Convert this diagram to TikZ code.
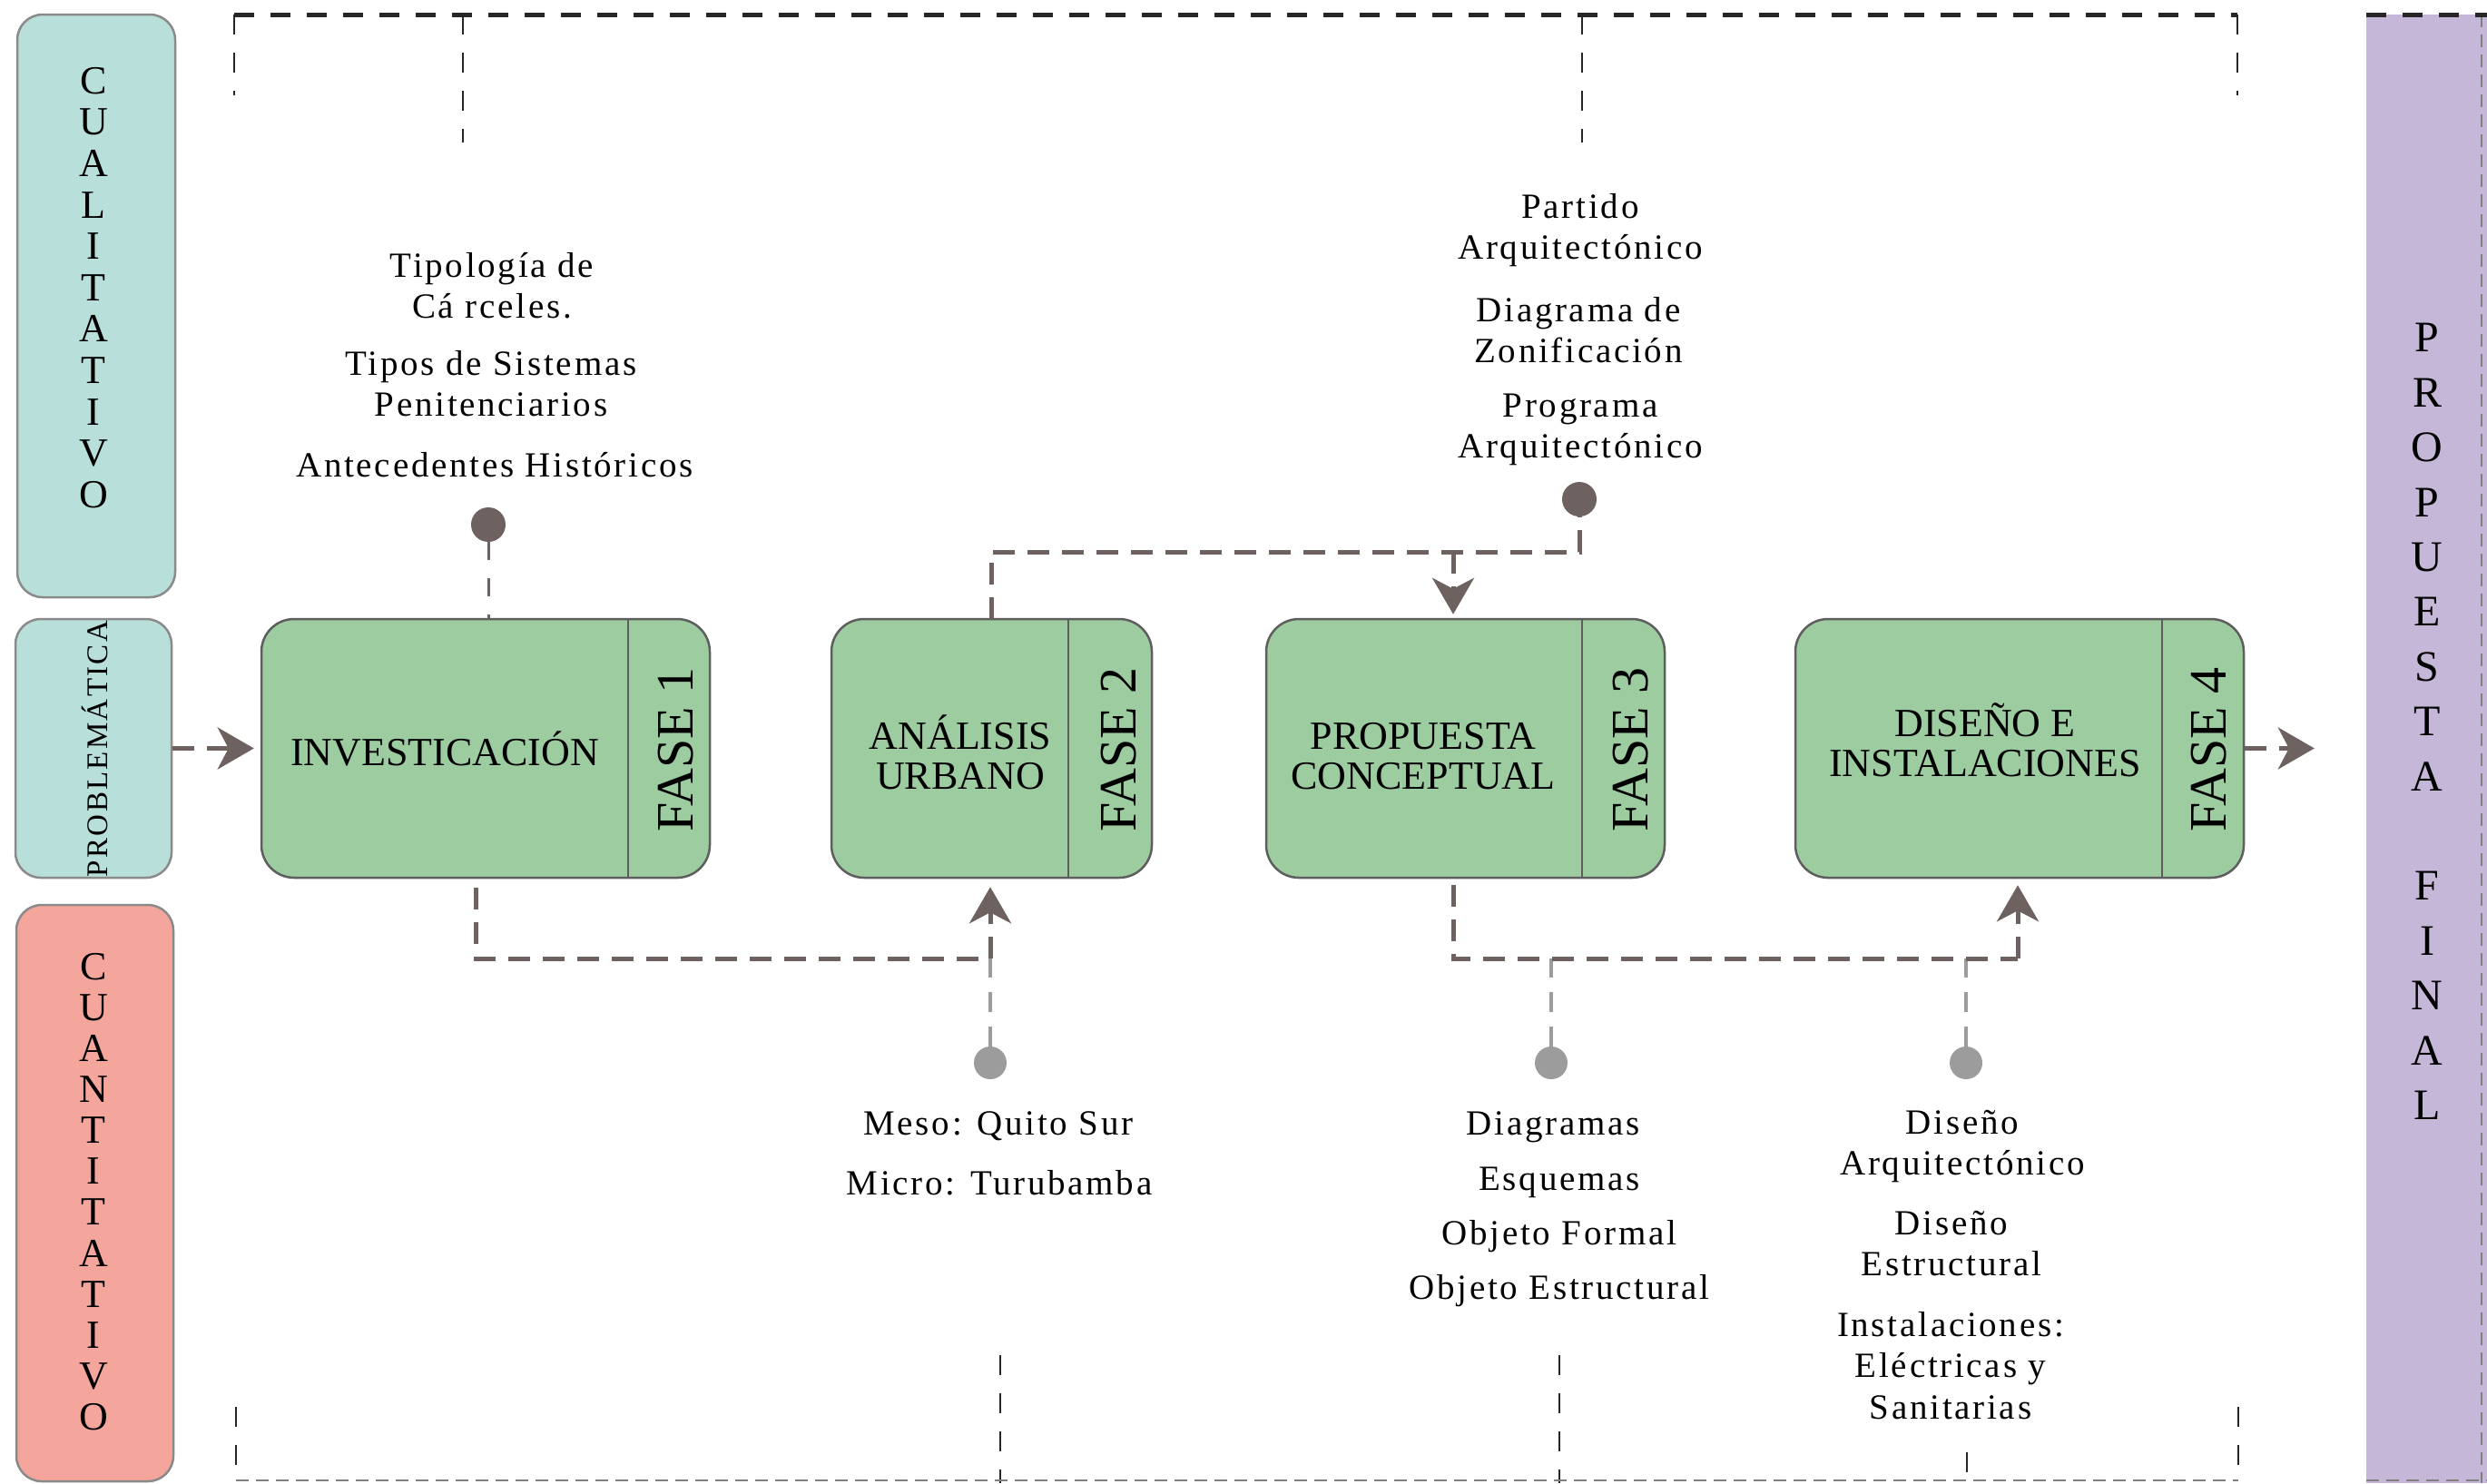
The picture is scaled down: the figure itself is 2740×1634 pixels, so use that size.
\documentclass[tikz,border=0pt]{standalone}
\usepackage{fontspec}
\setmainfont{Liberation Serif}
\newfontfamily\spacedfont[LetterSpace=7]{Liberation Serif}
\usetikzlibrary{arrows.meta}
\definecolor{cqual}{HTML}{B8DFDA}
\definecolor{cquant}{HTML}{F4A59C}
\definecolor{cgreen}{HTML}{9DCCA0}
\definecolor{clav}{HTML}{C4B7D8}
\definecolor{cconn}{HTML}{6D625F}
\definecolor{cgdot}{HTML}{9C9C9C}
\definecolor{cborder}{HTML}{5E5E5E}
\definecolor{csideborder}{HTML}{8A8A8A}
\tikzset{
  sidebox/.style={draw=csideborder, line width=2.5pt, rounded corners=28pt, inner sep=0pt},
  phasebox/.style={draw=cborder, line width=2.5pt, fill=cgreen, rounded corners=36pt, inner sep=0pt},
  divider/.style={draw=cborder, line width=2.5pt},
  boxtext/.style={font=\fontsize{44}{44}\selectfont, align=center, inner sep=0pt, anchor=base},
  fasetext/.style={font=\fontsize{58}{58}\selectfont, rotate=90, inner sep=0pt},
  vletters/.style={align=center, inner sep=0pt},
  info/.style={font=\spacedfont\fontsize{39}{45.5}\selectfont, align=center, inner sep=0pt, anchor=base},
  conn/.style={draw=cconn, line width=5pt, dash pattern=on 24pt off 14pt},
  tip/.style={-{Stealth[length=40pt, width=46pt, inset=12pt]}},
  thinconn/.style={draw=cconn, line width=3pt, dash pattern=on 20pt off 20pt},
  grayconn/.style={draw=cgdot, line width=3.5pt, dash pattern=on 22pt off 16pt},
  darkdot/.style={circle, fill=cconn, minimum size=38pt, inner sep=0pt},
  graydot/.style={circle, fill=cgdot, minimum size=36pt, inner sep=0pt},
  framedash/.style={draw=black!85, line width=2pt, dash pattern=on 22pt off 20pt},
  topdash/.style={draw=black!85, line width=5pt, dash pattern=on 22pt off 18pt},
  bottomdash/.style={draw=gray, line width=2.5pt, dash pattern=on 14pt off 8pt},
}
\begin{document}
\begin{tikzpicture}[x=1pt, y=-1pt]
\useasboundingbox (0,0) rectangle (2740,1634);
\fill[white] (0,0) rectangle (2740,1634);

% ---- frame (dashed brackets) ----
\coordinate (ftl) at (258,16);
\coordinate (ftr) at (2465,16);
\draw[topdash] (ftl) -- (ftr);
\coordinate (v1a) at (258,16);  \coordinate (v1b) at (258,105);
\coordinate (v2a) at (510,16);  \coordinate (v2b) at (510,157);
\coordinate (v3a) at (1743,16); \coordinate (v3b) at (1743,157);
\coordinate (v4a) at (2465,16); \coordinate (v4b) at (2465,105);
\draw[framedash] (v1a) -- (v1b);
\draw[framedash] (v2a) -- (v2b);
\draw[framedash] (v3a) -- (v3b);
\draw[framedash] (v4a) -- (v4b);
\coordinate (fbl) at (260,1631);
\coordinate (fbr) at (2466,1631);
\coordinate (w1a) at (260,1550);  \coordinate (w1b) at (260,1634);
\coordinate (w2a) at (1102,1493); \coordinate (w2b) at (1102,1634);
\coordinate (w3a) at (1718,1493); \coordinate (w3b) at (1718,1634);
\coordinate (w4a) at (2167,1600); \coordinate (w4b) at (2167,1634);
\coordinate (w5a) at (2466,1550); \coordinate (w5b) at (2466,1634);
\draw[framedash] (w1a) -- (w1b);
\draw[framedash] (w2a) -- (w2b);
\draw[framedash] (w3a) -- (w3b);
\draw[framedash] (w4a) -- (w4b);
\draw[framedash] (w5a) -- (w5b);
\draw[bottomdash] (fbl) -- (fbr);

% ---- side boxes ----
\node[sidebox, fill=cqual, minimum width=174pt, minimum height=642pt] (qual) at (106,337) {};
\node[vletters, font=\fontsize{44}{45.6}\selectfont] (qualt) at (103,317) {C\\U\\A\\L\\I\\T\\A\\T\\I\\V\\O};
\node[sidebox, fill=cqual, minimum width=172pt, minimum height=285pt] (prob) at (103,824.5) {};
\node[font=\spacedfont\fontsize{33}{33}\selectfont, rotate=90, inner sep=0pt] (probt) at (104,825) {PROBLEMÁTICA};
\node[sidebox, fill=cquant, minimum width=173pt, minimum height=635pt] (quant) at (104.5,1314.5) {};
\node[vletters, font=\fontsize{44}{45.1}\selectfont] (quantt) at (103,1313) {C\\U\\A\\N\\T\\I\\T\\A\\T\\I\\V\\O};

% ---- propuesta final ----
\node[fill=clav, minimum width=133pt, minimum height=1618pt, inner sep=0pt] (pf) at (2673.5,825) {};
\coordinate (pfa) at (2734,16);
\coordinate (pfb) at (2734,1634);
\coordinate (pft1) at (2607,16);
\coordinate (pft2) at (2740,16);
\coordinate (pfb1) at (2607,1631);
\coordinate (pfb2) at (2740,1631);
\draw[bottomdash] (pfa) -- (pfb);
\draw[topdash] (pft1) -- (pft2);
\draw[bottomdash] (pfb1) -- (pfb2);
\node[vletters, font=\fontsize{48}{60.4}\selectfont] (pft) at (2674,795) {P\\R\\O\\P\\U\\E\\S\\T\\A\\[60.4pt]F\\I\\N\\A\\L};

% ---- phase boxes ----
\node[phasebox, minimum width=494pt, minimum height=285pt] (f1) at (535,824.5) {};
\draw[divider] (692,682) -- (692,967);
\node[boxtext] (f1t) at (490,843) {INVESTICACIÓN};
\node[fasetext] (f1f) at (745,826) {FASE 1};

\node[phasebox, minimum width=353pt, minimum height=285pt] (f2) at (1092.5,824.5) {};
\draw[divider] (1177,682) -- (1177,967);
\node[boxtext] (f2t) at (1058,869) {ANÁLISIS\\URBANO};
\node[fasetext] (f2f) at (1233,826) {FASE 2};

\node[phasebox, minimum width=439pt, minimum height=285pt] (f3) at (1614.5,824.5) {};
\draw[divider] (1743,682) -- (1743,967);
\node[boxtext] (f3t) at (1568,869) {PROPUESTA\\CONCEPTUAL};
\node[fasetext] (f3f) at (1797,826) {FASE 3};

\node[phasebox, minimum width=494pt, minimum height=285pt] (f4) at (2225,824.5) {};
\draw[divider] (2382,682) -- (2382,967);
\node[boxtext] (f4t) at (2187,855) {DISEÑO E\\INSTALACIONES};
\node[fasetext] (f4f) at (2434,826) {FASE 4};

% ---- texts (anchor = baseline of last line) ----
\node[info] (t1) at (542,350.5) {Tipología de\\Cá rceles.};
\node[info] (t2) at (541,458.5) {Tipos de Sistemas\\Penitenciarios};
\node[info] (t3) at (545,525) {Antecedentes Históricos};
\node[info] (r1) at (1741,285.5) {Partido\\Arquitectónico};
\node[info] (r2) at (1739,399.5) {Diagrama de\\Zonificación};
\node[info] (r3) at (1741,504.5) {Programa\\Arquitectónico};
\node[info] (b1) at (1100,1250) {Meso: Quito Sur};
\node[info] (b2) at (1101,1316) {Micro: Turubamba};
\node[info] (c1) at (1711,1250) {Diagramas};
\node[info] (c2) at (1718,1311) {Esquemas};
\node[info] (c3) at (1718,1371) {Objeto Formal};
\node[info] (c4) at (1718,1431) {Objeto Estructural};
\node[info] (e1) at (2162,1294.5) {Diseño\\Arquitectónico};
\node[info] (e2) at (2150,1405.5) {Diseño\\Estructural};
\node[info] (e3) at (2149,1563) {Instalaciones:\\Eléctricas y\\Sanitarias};

% ---- connectors ----
\draw[conn, tip, shorten >=7pt] (prob.east) -- (f1.west);
\draw[conn, tip, shorten >=57pt] (f4.east) -- (f4.east -| pf.west);

\node[darkdot] (d1) at (538,578) {};
\draw[thinconn] (d1.south) -- (d1.south |- f1.north);

\coordinate (f1b) at (524,978);
\coordinate (j1) at (1091,1056);
\node[graydot] (d2) at (1091,1171) {};
\draw[grayconn] (d2.north) -- (j1);
\draw[conn] (f1b) |- (j1);
\draw[conn, tip, shorten >=9pt] (j1) -- (j1 |- f2.south);

\node[darkdot] (d3) at (1740,550) {};
\coordinate (j2) at (1740,608);
\coordinate (f2top) at (1092,682);
\draw[conn] (f2top) |- (j2) -- (d3.south);
\coordinate (a3) at (1601,608);
\draw[conn, tip, shorten >=4pt] (a3) -- (a3 |- f3.north);

\coordinate (f3b) at (1601,975);
\coordinate (j4) at (2223,1056);
\node[graydot] (d4) at (1709,1171) {};
\node[graydot] (d5) at (2166,1171) {};
\draw[grayconn] (d4.north) -- (d4.north |- j4);
\draw[grayconn] (d5.north) -- (d5.north |- j4);
\draw[conn] (f3b) |- (j4);
\draw[conn, tip, shorten >=7pt] (j4) -- (j4 |- f4.south);
\end{tikzpicture}
\end{document}
